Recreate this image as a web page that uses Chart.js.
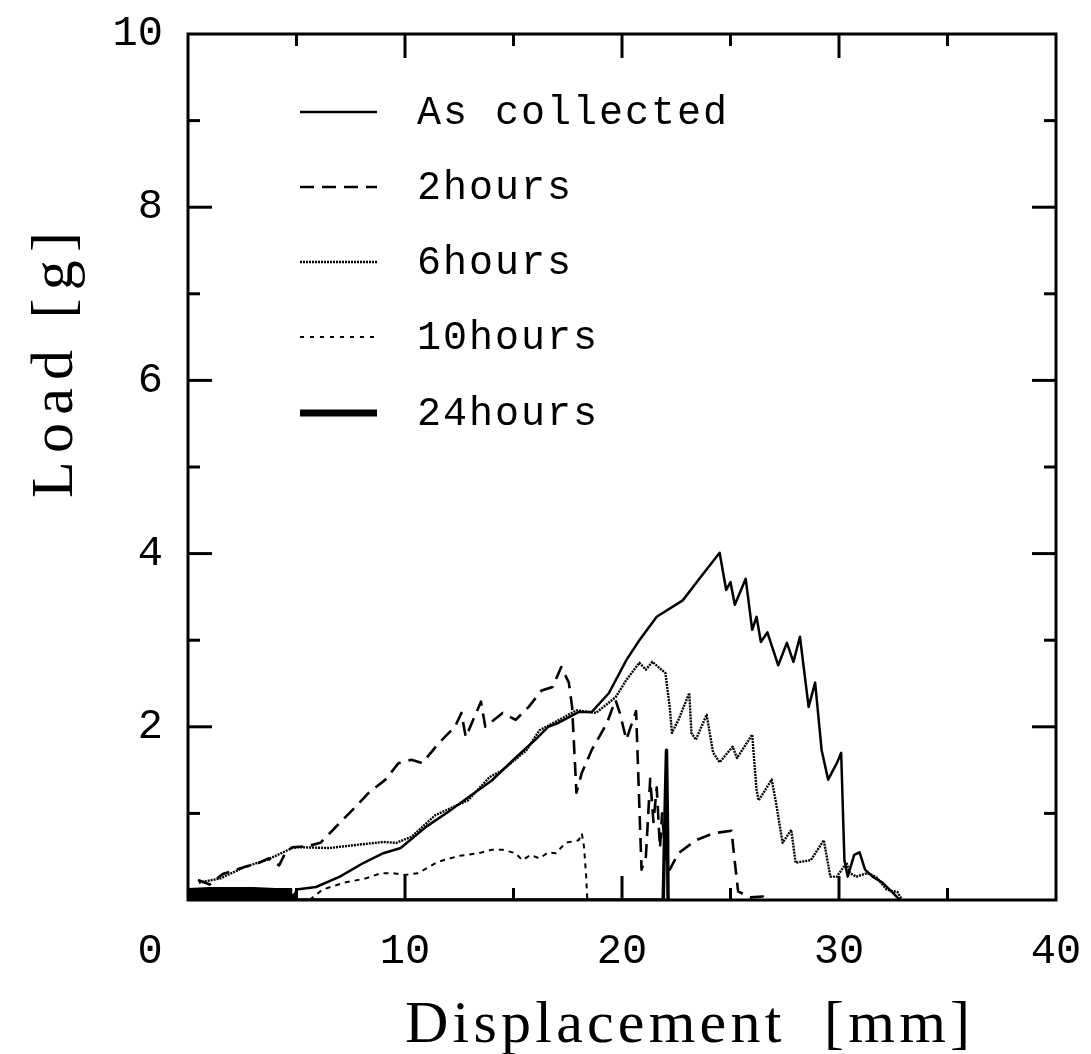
<!DOCTYPE html>
<html>
<head>
<meta charset="utf-8">
<script src="https://cdn.jsdelivr.net/npm/chart.js@4.4.1/dist/chart.umd.min.js"></script>
<style>
  html, body { margin: 0; padding: 0; background: #fff; }
  canvas { display: block; }
</style>
</head>
<body>
<canvas id="chart" width="1091" height="1054"></canvas>
<script>
// ── Data ([displacement mm, load g]) ───────────────────────────────────────
const seriesNames = ['As collected', '2hours', '6hours', '10hours', '24hours'];

const asCollected = [
  [4.85,0],[5.0,0.12],[5.9,0.15],[7.0,0.27],[8.1,0.43],[9.0,0.54],[9.8,0.6],
  [11.0,0.85],[12.0,1.02],[13.0,1.2],[14.0,1.38],[15.0,1.62],[16.0,1.85],
  [16.6,2.0],[17.1,2.05],[18.0,2.17],[18.6,2.17],[19.4,2.39],[20.2,2.77],
  [20.8,3.0],[21.6,3.27],[22.8,3.46],[23.6,3.72],[24.5,4.01],[24.8,3.58],
  [25.0,3.67],[25.2,3.41],[25.7,3.71],[26.0,3.12],[26.2,3.27],[26.4,2.98],
  [26.7,3.09],[27.2,2.71],[27.6,2.97],[27.9,2.75],[28.2,3.04],[28.6,2.23],
  [28.9,2.51],[29.2,1.73],[29.5,1.39],[29.9,1.58],[30.1,1.70],[30.25,0.46],
  [30.4,0.27],[30.7,0.52],[30.95,0.55],[31.2,0.35],[31.55,0.27],[32.0,0.2],
  [32.5,0.08],[32.8,0]
];

const twoHours = [
  [0.46,0.23],[1.0,0.18],[1.6,0.3],[2.6,0.38],[3.2,0.42],[3.7,0.48],[4.2,0.4],
  [4.5,0.55],[4.8,0.61],[5.5,0.62],[6.1,0.66],[6.8,0.84],[7.7,1.07],[8.3,1.23],
  [9.1,1.39],[9.7,1.58],[10.3,1.62],[10.8,1.58],[11.55,1.81],[12.3,2.0],
  [12.6,2.16],[12.8,1.88],[13.5,2.29],[13.7,2.0],[14.5,2.16],[15.1,2.08],
  [15.7,2.23],[16.3,2.42],[16.8,2.46],[17.2,2.69],[17.55,2.51],[17.7,2.23],
  [17.9,1.24],[18.15,1.47],[18.6,1.73],[19.3,2.04],[19.7,2.31],[19.9,2.16],
  [20.2,1.85],[20.4,2.0],[20.65,2.18],[20.9,0.35],[21.1,0.5],[21.3,1.4],
  [21.45,0.9],[21.6,1.3],[21.75,0.6],[21.85,1.0],[22.0,0.5],[22.2,0.35],
  [22.6,0.54],[23.4,0.69],[24.2,0.77],[25.05,0.8],[25.15,0.55],[25.35,0.1],
  [25.9,0.03],[26.5,0.04],[26.7,0]
];

const sixHours = [
  [0.5,0.2],[1.5,0.25],[2.6,0.38],[3.7,0.47],[4.8,0.6],[5.1,0.61],[6.5,0.6],
  [7.9,0.64],[9.0,0.67],[9.6,0.66],[10.3,0.73],[11.4,0.98],[12.9,1.15],
  [13.9,1.42],[14.5,1.5],[15.6,1.73],[16.2,1.96],[17.1,2.08],[17.9,2.19],
  [18.8,2.16],[19.7,2.34],[20.2,2.54],[20.8,2.74],[21.1,2.66],[21.4,2.75],
  [22.0,2.62],[22.2,2.23],[22.3,1.93],[22.6,2.08],[23.1,2.39],[23.2,1.93],
  [23.4,1.85],[23.9,2.14],[24.2,1.7],[24.5,1.59],[25.1,1.77],[25.3,1.64],
  [26.0,1.91],[26.2,1.27],[26.3,1.15],[26.9,1.39],[27.1,1.12],[27.4,0.66],
  [27.8,0.81],[28.0,0.43],[28.7,0.46],[29.3,0.69],[29.6,0.27],[29.9,0.27],
  [30.35,0.43],[30.5,0.31],[30.8,0.27],[31.3,0.31],[31.7,0.27],[32.2,0.12],
  [32.7,0.09],[32.9,0]
];

const tenHours = [
  [5.6,0],[6.2,0.12],[7.2,0.2],[8.2,0.25],[8.9,0.31],[9.4,0.31],[10.0,0.29],
  [10.6,0.31],[11.5,0.44],[12.5,0.51],[13.4,0.54],[14.0,0.58],[14.5,0.58],
  [15.1,0.54],[15.4,0.46],[15.8,0.52],[16.2,0.48],[16.6,0.55],[16.95,0.54],
  [17.4,0.66],[18.0,0.69],[18.15,0.77],[18.25,0.61],[18.35,0.27],[18.4,0]
];

const twentyFourHours = [
  [0,0.07],[1,0.08],[2,0.08],[3,0.08],[4,0.07],[4.8,0.07],[4.9,0],
  [21.9,0],[22.0,1.2],[22.05,1.73],[22.1,0.8],[22.12,0]
];

const xTickValues = [0, 10, 20, 30, 40];
const xTickLabels = ['0', '10', '20', '30', '40'];
const xMinorTicks = [5, 15, 25, 35];
const yTickValues = [2, 4, 6, 8, 10];
const yTickLabels = ['2', '4', '6', '8', '10'];
const yMinorTicks = [1, 3, 5, 7, 9];

// ── Styles ─────────────────────────────────────────────────────────────────
const TICK_FONT = { family: '"Liberation Mono", "DejaVu Sans Mono", monospace', size: 42 };
const pts = arr => arr.map(([x, y]) => ({ x, y }));

const datasets = [
  { label: seriesNames[0], data: pts(asCollected), borderWidth: 2.5, borderDash: [] },
  { label: seriesNames[1], data: pts(twoHours), borderWidth: 2.6, borderDash: [14, 8] },
  { label: seriesNames[2], data: pts(sixHours), borderWidth: 2.4, borderDash: [2, 1] },
  { label: seriesNames[3], data: pts(tenHours), borderWidth: 2, borderDash: [5, 5] },
  { label: seriesNames[4], data: pts(twentyFourHours), borderWidth: 7, borderDash: [],
    borderCapStyle: 'butt',
    segment: { borderWidth: c => (c.p0.parsed.x < 4.7 ? 12 : 3.5) } },
].map(d => ({ ...d, borderColor: '#000', backgroundColor: '#000', pointRadius: 0,
              tension: 0, fill: false, borderJoinStyle: 'round' }));

// drop the automatic label overhang padding so the plot box lands where the reference has it
const noPad = s => { s.paddingTop = 0; s.paddingBottom = 0; s.paddingLeft = 0; s.paddingRight = 0; };

// ── Frame with inward ticks, legend and axis titles ────────────────────────
const framePlugin = {
  id: 'frame',
  afterDraw(chart) {
    const { ctx, chartArea: a, scales: { x, y } } = chart;
    ctx.save();
    ctx.strokeStyle = '#000';
    ctx.lineWidth = 3;
    ctx.strokeRect(a.left, a.top, a.right - a.left, a.bottom - a.top);
    const tick = (x1, y1, x2, y2) => { ctx.beginPath(); ctx.moveTo(x1, y1); ctx.lineTo(x2, y2); ctx.stroke(); };
    xTickValues.slice(1, -1).forEach(v => {
      const px = x.getPixelForValue(v);
      tick(px, a.bottom, px, a.bottom - 24); tick(px, a.top, px, a.top + 24);
    });
    xMinorTicks.forEach(v => {
      const px = x.getPixelForValue(v);
      tick(px, a.bottom, px, a.bottom - 12); tick(px, a.top, px, a.top + 12);
    });
    yTickValues.slice(0, -1).forEach(v => {
      const py = y.getPixelForValue(v);
      tick(a.left, py, a.left + 24, py); tick(a.right, py, a.right - 24, py);
    });
    yMinorTicks.forEach(v => {
      const py = y.getPixelForValue(v);
      tick(a.left, py, a.left + 12, py); tick(a.right, py, a.right - 12, py);
    });
    ctx.restore();
  }
};

const legendPlugin = {
  id: 'plotLegend',
  afterDraw(chart) {
    const { ctx } = chart;
    const rows = [112, 187, 262, 337, 413];
    ctx.save();
    chart.data.datasets.forEach((ds, i) => {
      const yy = rows[i];
      ctx.strokeStyle = '#000';
      ctx.lineWidth = i === 4 ? 7 : ds.borderWidth;
      ctx.setLineDash(i === 3 ? [4, 6] : ds.borderDash);
      ctx.beginPath(); ctx.moveTo(300, yy); ctx.lineTo(377, yy); ctx.stroke();
      ctx.setLineDash([]);
      ctx.fillStyle = '#000';
      ctx.font = '40px "Liberation Mono", "DejaVu Sans Mono", monospace';
      ctx.letterSpacing = '2px';
      ctx.textBaseline = 'middle';
      ctx.textAlign = 'left';
      ctx.fillText(ds.label, 417, yy + 1);
      ctx.letterSpacing = '0px';
    });
    ctx.restore();
  }
};

function fitText(ctx, text, x, y, width) {
  ctx.letterSpacing = '0px';
  const w = ctx.measureText(text).width;
  ctx.letterSpacing = ((width - w) / (text.length - 1)) + 'px';
  ctx.fillText(text, x, y);
  ctx.letterSpacing = '0px';
}

const titlesPlugin = {
  id: 'axisTitles',
  afterDraw(chart) {
    const { ctx } = chart;
    ctx.save();
    ctx.fillStyle = '#000';
    ctx.font = '60px "Liberation Serif", "DejaVu Serif", serif';
    ctx.textAlign = 'left';
    ctx.textBaseline = 'alphabetic';
    fitText(ctx, 'Displacement  [mm]', 405, 1042, 565);
    ctx.translate(72, 498);
    ctx.rotate(-Math.PI / 2);
    fitText(ctx, 'Load [g]', 0, 0, 266);
    ctx.restore();
  }
};

new Chart(document.getElementById('chart'), {
  type: 'line',
  data: { datasets },
  options: {
    responsive: false,
    animation: false,
    devicePixelRatio: 1,
    layout: { padding: { top: 34, right: 35, left: 0, bottom: 0 } },
    plugins: { legend: { display: false }, tooltip: { enabled: false } },
    scales: {
      x: {
        type: 'linear', min: 0, max: 40,
        afterBuildTicks: s => { s.ticks = xTickValues.map(v => ({ value: v })); },
        afterFit: s => { s.height = 154; noPad(s); },
        grid: { display: false, drawTicks: false },
        border: { display: false },
        ticks: {
          autoSkip: false, maxRotation: 0, padding: 27, color: '#000', font: TICK_FONT,
          callback: v => { const l = xTickLabels[xTickValues.indexOf(v)]; return v === 0 ? l + '   ' : l; }
        }
      },
      y: {
        type: 'linear', min: 0, max: 10,
        afterBuildTicks: s => { s.ticks = yTickValues.map(v => ({ value: v })); },
        afterFit: s => { s.width = 188; noPad(s); },
        grid: { display: false, drawTicks: false },
        border: { display: false },
        ticks: {
          autoSkip: false, padding: 25, color: '#000', font: TICK_FONT,
          callback: v => yTickLabels[yTickValues.indexOf(v)]
        }
      }
    }
  },
  plugins: [framePlugin, legendPlugin, titlesPlugin]
});
</script>
</body>
</html>
